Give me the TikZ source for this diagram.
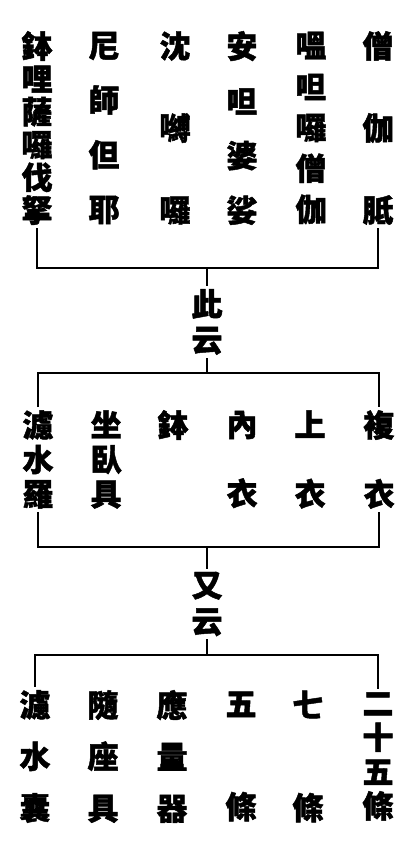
\documentclass[tikz,border=0pt]{standalone}
\usepackage{fontspec}
\newfontfamily\cjk[BoldFeatures={FakeBold=1.5}]{Noto Sans CJK TC}
\usetikzlibrary{positioning}

\begin{document}
\begin{tikzpicture}[x=1pt,y=-1pt,
  vcol/.style={align=center,inner sep=3pt,
    font={\cjk\bfseries\fontsize{31}{#1}\selectfont\lineskiplimit=-100pt}},
  bar/.style={line width=1.8pt}]
  \useasboundingbox (0,0) rectangle (408,848);
  % first row
  \node[vcol=32.8]  (top_1) at (37,128)  {鉢\\哩\\薩\\囉\\伐\\拏};
  \node[vcol=54.67] (top_2) at (104,128) {尼\\師\\但\\耶};
  \node[vcol=82]    (top_3) at (175,128) {沈\\嚩\\囉};
  \node[vcol=54.67] (top_4) at (242,128) {安\\呾\\婆\\娑};
  \node[vcol=41]    (top_5) at (311,128) {嗢\\呾\\囉\\僧\\伽};
  \node[vcol=82]    (top_6) at (378,128) {僧\\伽\\胝};
  \node[vcol=36]    (say_1) at (207,322) {此\\云};
  % second row
  \node[vcol=34.5]  (mid_1) at (38,459.5)  {濾\\水\\羅};
  \node[vcol=34.5]  (mid_2) at (106,459.5) {坐\\臥\\具};
  \node[vcol=34.5]  (mid_3) at (173,425)   {鉢};
  \node[vcol=69]    (mid_4) at (242,459.5) {內\\衣};
  \node[vcol=69]    (mid_5) at (310,459.5) {上\\衣};
  \node[vcol=69]    (mid_6) at (379,459.5) {複\\衣};
  \node[vcol=36]    (say_2) at (207,604)   {又\\云};
  % third row
  \node[vcol=51.5]  (low_1) at (35,756.5)  {濾\\水\\囊};
  \node[vcol=51.5]  (low_2) at (103,756.5) {隨\\座\\具};
  \node[vcol=51.5]  (low_3) at (172,756.5) {應\\量\\器};
  \node[vcol=103]   (low_4) at (241,756.5) {五\\條};
  \node[vcol=103]   (low_5) at (308,756.5) {七\\條};
  \node[vcol=34.33] (low_6) at (378,756.5) {二\\十\\五\\條};
  % brackets
  \coordinate (j_1) at (207,268);
  \coordinate (j_2) at (207,373);
  \coordinate (j_3) at (207,547);
  \coordinate (j_4) at (207,655);
  \draw[bar] (top_1.south) |- (j_1) -| (top_6.south);
  \draw[bar] (j_1) -- (say_1.north);
  \draw[bar] (say_1.south) -- (j_2);
  \draw[bar] (mid_1.north) |- (j_2) -| (mid_6.north);
  \draw[bar] (mid_1.south) |- (j_3) -| (mid_6.south);
  \draw[bar] (j_3) -- (say_2.north);
  \draw[bar] (say_2.south) -- (j_4);
  \draw[bar] (low_1.north) |- (j_4) -| (low_6.north);
\end{tikzpicture}
\end{document}
